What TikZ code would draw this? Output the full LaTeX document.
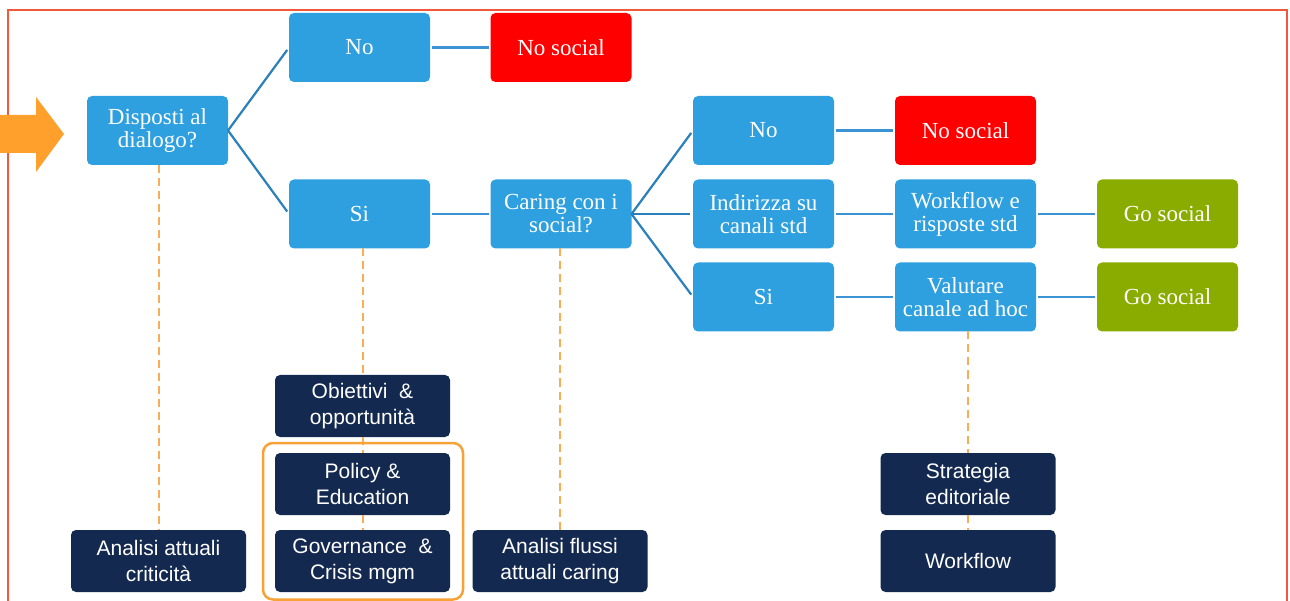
\documentclass[tikz,border=0pt]{standalone}
\usepackage{fontspec}
\setmainfont{Liberation Serif}
\newfontfamily\boxsans{Liberation Sans}
\definecolor{qblue}{HTML}{2FA0DF}
\definecolor{qred}{HTML}{FF0000}
\definecolor{qgreen}{HTML}{8AAC00}
\definecolor{qnavy}{HTML}{13294F}
\definecolor{qline}{HTML}{2B7FBA}
\definecolor{qhline}{HTML}{3B93D3}
\definecolor{qdash}{HTML}{F9AD55}
\definecolor{qarrow}{HTML}{FF9F2C}
\definecolor{qgroup}{HTML}{F7A236}
\definecolor{qframe}{HTML}{F0583C}
\begin{document}
\begin{tikzpicture}[x=1pt,y=-1pt,
  decision/.style={rectangle, rounded corners=5pt, fill=qblue, text=white,
    minimum width=141pt, minimum height=69pt, inner sep=0pt, outer sep=0pt,
    align=center, font=\fontsize{23}{23}\selectfont},
  stopbox/.style={decision, fill=qred},
  gobox/.style={decision, fill=qgreen},
  taskbox/.style={rectangle, rounded corners=5pt, fill=qnavy, text=white,
    minimum width=175pt, minimum height=62pt, inner sep=0pt, outer sep=0pt,
    align=center, font=\boxsans\fontsize{21}{26}\selectfont},
  branch/.style={draw=qline, line width=2.2pt, shorten >=3pt},
  link/.style={draw=qhline, line width=2.2pt, shorten <=2pt, shorten >=2pt},
  trace/.style={draw=qdash, line width=2pt, dash pattern=on 8pt off 5pt},
]
\useasboundingbox (0,0) rectangle (1290,601);
\clip (0,0) rectangle (1290,601);

% outer frame
\draw[qframe, line width=1.5pt] (8,10) rectangle (1287,650);

% decision boxes
\node[decision] (disp)  at (157.5,130.5) {Disposti al\\dialogo?};
\node[decision] (no1)   at (359.5,47.5)  {No};
\node[stopbox]  (nos1)  at (561,47.5)    {No social};
\node[decision] (si1)   at (359.5,214)   {Si};
\node[decision] (caring) at (561,214)    {Caring con i\\social?};
\node[decision] (no2)   at (763.5,130.5) {No};
\node[decision] (ind)   at (763.5,214)   {Indirizza su\\canali std};
\node[decision] (si2)   at (763.5,297)   {Si};
\node[stopbox]  (nos2)  at (965.5,130.5) {No social};
\node[decision] (wf)    at (965.5,214)   {Workflow e\\risposte std};
\node[decision] (val)   at (965.5,297)   {Valutare\\canale ad hoc};
\node[gobox]    (go1)   at (1167.5,214)  {Go social};
\node[gobox]    (go2)   at (1167.5,297)  {Go social};

% task boxes
\node[taskbox] (an1)   at (158.5,561) {Analisi attuali\\criticità};
\node[taskbox] (obj)   at (362.5,406) {Obiettivi \ \&\\opportunità};
\node[taskbox] (pol)   at (362.5,484) {Policy \&\\Education};
\node[taskbox] (gov)   at (362.5,561) {Governance \ \&\\Crisis mgm};
\node[taskbox] (an2)   at (560,561)   {Analisi flussi\\attuali caring};
\node[taskbox] (strat) at (968,484)   {Strategia\\editoriale};
\node[taskbox] (wflow) at (968,561)   {Workflow};

% dashed traces between the boxes
\draw[trace] (an1.north |- disp.south) -- (an1.north);
\draw[trace] (obj.north |- si1.south) -- (obj.north);
\draw[trace] (obj.south) -- (pol.north);
\draw[trace] (pol.south) -- (gov.north);
\draw[trace] (an2.north |- caring.south) -- (an2.north);
\draw[trace] (strat.north |- val.south) -- (strat.north);
\draw[trace] (strat.south) -- (wflow.north);

% group around policy and governance
\draw[qgroup, line width=2.5pt, rounded corners=10pt] (263,443) rectangle (463,599.5);

% branching connectors
\draw[branch] (disp.east) -- (no1.west);
\draw[branch] (disp.east) -- (si1.west);
\draw[branch] (caring.east) -- (no2.west);
\draw[branch] (caring.east) -- (ind.west);
\draw[branch] (caring.east) -- (si2.west);

% straight links
\draw[link] (no1) -- (nos1);
\draw[link] (si1) -- (caring);
\draw[link] (no2) -- (nos2);
\draw[link] (ind) -- (wf);
\draw[link] (wf) -- (go1);
\draw[link] (si2) -- (val);
\draw[link] (val) -- (go2);

% entry arrow
\fill[qarrow] (0,115) -- (36,115) -- (36,97) -- (64,134) -- (36,172)
  -- (36,153) -- (0,153) -- cycle;
\end{tikzpicture}
\end{document}
